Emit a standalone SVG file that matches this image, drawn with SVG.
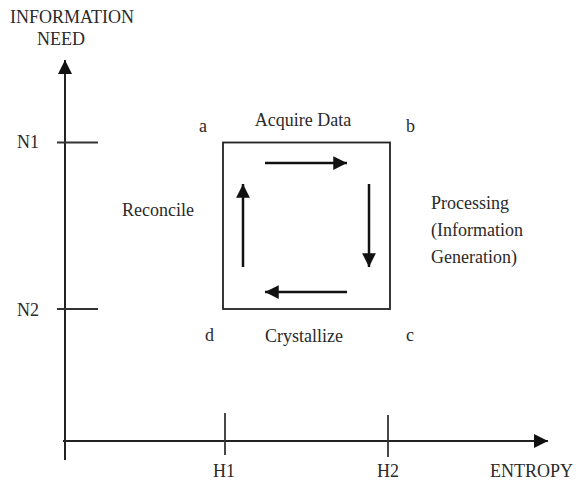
<svg xmlns="http://www.w3.org/2000/svg" width="577" height="482" viewBox="0 0 577 482">
<style>
text{font-family:"Liberation Serif","Times New Roman",serif;font-size:18px;fill:#2a2a2a}
.ax{stroke:#222;stroke-width:2;fill:none}
.tk{stroke:#333;stroke-width:1.8;fill:none}
.flow{stroke:#111;stroke-width:2.5;fill:none}
</style>
<defs>
<marker id="ah" viewBox="0 0 10 10" refX="10" refY="5" markerWidth="5.5" markerHeight="5.5" orient="auto" markerUnits="strokeWidth">
<path d="M0,0 L10,5 L0,10 z" fill="#111"/>
</marker>
<marker id="axh" viewBox="0 0 10 10" refX="10" refY="5" markerWidth="7" markerHeight="7" orient="auto" markerUnits="strokeWidth">
<path d="M0,0 L10,5 L0,10 z" fill="#111"/>
</marker>
</defs>
<g id="axes">
<line class="ax" x1="65" y1="460" x2="65" y2="60" marker-end="url(#axh)"/>
<line class="ax" x1="63" y1="441" x2="548" y2="441" marker-end="url(#axh)"/>
<line class="tk" x1="57" y1="142.5" x2="98" y2="142.5"/>
<line class="tk" x1="57" y1="309" x2="98" y2="309"/>
<line class="tk" x1="225" y1="413" x2="225" y2="455"/>
<line class="tk" x1="388" y1="415" x2="388" y2="457"/>
</g>
<g id="axis-labels">
<text x="72" y="23" text-anchor="middle">INFORMATION</text>
<text x="61" y="45" text-anchor="middle">NEED</text>
<text x="17" y="148">N1</text>
<text x="17" y="316">N2</text>
<text x="224" y="477" text-anchor="middle">H1</text>
<text x="388" y="477" text-anchor="middle">H2</text>
<text x="573" y="477" text-anchor="end">ENTROPY</text>
</g>
<g id="cycle-box">
<rect x="223" y="142.5" width="167" height="166.5" fill="none" stroke="#222" stroke-width="1.8"/>
</g>
<g id="connectors">
<line class="flow" x1="265" y1="163" x2="347" y2="163" marker-end="url(#ah)"/>
<line class="flow" x1="369" y1="184" x2="369" y2="267" marker-end="url(#ah)"/>
<line class="flow" x1="347" y1="292" x2="265" y2="292" marker-end="url(#ah)"/>
<line class="flow" x1="243" y1="267" x2="243" y2="184" marker-end="url(#ah)"/>
</g>
<g id="corner-a"><text x="199" y="132">a</text></g>
<g id="corner-b"><text x="406" y="132">b</text></g>
<g id="corner-c"><text x="406" y="341">c</text></g>
<g id="corner-d"><text x="205" y="341">d</text></g>
<g id="acquire"><text x="303" y="126" text-anchor="middle">Acquire Data</text></g>
<g id="processing">
<text x="431" y="209">Processing</text>
<text x="431" y="236">(Information</text>
<text x="431" y="263">Generation)</text>
</g>
<g id="crystallize"><text x="304" y="342" text-anchor="middle">Crystallize</text></g>
<g id="reconcile"><text x="158" y="216" text-anchor="middle">Reconcile</text></g>
</svg>
